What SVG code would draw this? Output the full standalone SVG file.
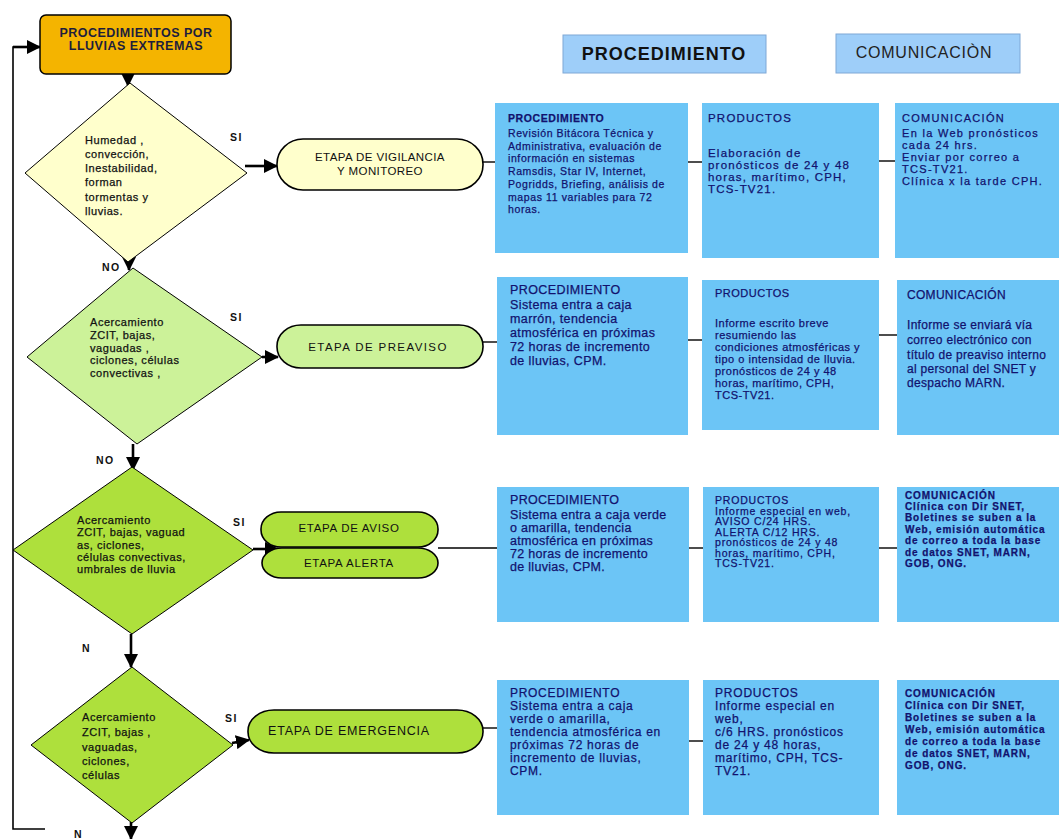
<svg xmlns="http://www.w3.org/2000/svg" width="1061" height="839" viewBox="0 0 1061 839">
  <defs>
    <marker id="arrow" markerUnits="userSpaceOnUse" markerWidth="14" markerHeight="14" viewBox="0 0 14 14" refX="13" refY="7" orient="auto">
      <path d="M0,0 L14,7 L0,14 Z" fill="#000"/>
    </marker>
    <style>
      text { font-family: "Liberation Sans", Arial, sans-serif; }
      .start { fill: #F4B400; stroke: #000; stroke-width: 1.5; }
      .dec-y { fill: #FFFFCC; stroke: #000; stroke-width: 1; }
      .dec-g { fill: #CCF299; stroke: #000; stroke-width: 1; }
      .dec-l { fill: #AEE03C; stroke: #000; stroke-width: 1; }
      .stage { stroke: #000; stroke-width: 1.6; }
      .info { fill: #6CC5F6; }
      .head { fill: #9ECEF9; stroke: #7FA8D6; stroke-width: 1; }
      .dt { font-size: 11px; fill: #111; stroke: #111; stroke-width: 0.25; letter-spacing: 0.55px; }
      .lbl { font-size: 10.5px; font-weight: bold; fill: #111; letter-spacing: 1.5px; }
      .st { font-size: 11.5px; fill: #111; text-anchor: middle; }
      .bt { fill: #12126E; stroke: #12126E; stroke-width: 0.25; }
      .arr { stroke: #000; stroke-width: 2.6; fill: none; marker-end: url(#arrow); }
      .ln { stroke: #000; stroke-width: 1.4; fill: none; }
      .loop { stroke: #000; stroke-width: 1.6; fill: none; }
    </style>
  </defs>

  <rect width="1061" height="839" fill="#FFFFFF"/>

  <!-- column headings -->
  <g id="header-procedimiento">
    <rect class="head" x="563" y="35" width="203" height="38"/>
    <text x="664" y="60" font-size="18" font-weight="bold" letter-spacing="1" text-anchor="middle" fill="#111">PROCEDIMIENTO</text>
  </g>
  <g id="header-comunicacion">
    <rect class="head" x="836" y="34" width="184" height="39"/>
    <text x="924" y="58" font-size="16" letter-spacing="0.8" text-anchor="middle" fill="#222">COMUNICACIÒN</text>
  </g>

  <!-- connectors -->
  <g id="connectors">
    <polyline class="loop" points="45,829 13,829 13,47 30,47"/>
    <line class="arr" x1="13" y1="47" x2="40" y2="47"/>
    <line class="arr" x1="128" y1="74" x2="128" y2="86"/>
    <line class="arr" x1="245" y1="166" x2="277" y2="166"/>
    <line class="arr" x1="129" y1="247" x2="129" y2="270"/>
    <line class="arr" x1="262" y1="357" x2="278" y2="357"/>
    <line class="arr" x1="133" y1="444" x2="133" y2="470"/>
    <line class="arr" x1="253" y1="549" x2="278" y2="549"/>
    <line class="arr" x1="131" y1="634" x2="131" y2="667"/>
    <line class="arr" x1="232" y1="743" x2="249" y2="740"/>
    <line class="arr" x1="131" y1="822" x2="131" y2="839"/>
    <!-- stage to detail boxes -->
    <line class="ln" x1="483" y1="162" x2="495" y2="162"/>
    <line class="ln" x1="688" y1="162" x2="702" y2="162"/>
    <line class="ln" x1="879" y1="161" x2="895" y2="161"/>
    <line class="ln" x1="483" y1="342" x2="497" y2="342"/>
    <line class="ln" x1="688" y1="340" x2="702" y2="340"/>
    <line class="ln" x1="879" y1="335" x2="897" y2="335"/>
    <line class="ln" x1="438" y1="548" x2="497" y2="548"/>
    <line class="ln" x1="689" y1="548" x2="703" y2="548"/>
    <line class="ln" x1="879" y1="548" x2="897" y2="548"/>
    <line class="ln" x1="483" y1="728" x2="497" y2="728"/>
    <line class="ln" x1="689" y1="741" x2="703" y2="741"/>
  </g>

  <!-- start -->
  <g id="start">
    <rect class="start" x="40" y="15" width="191" height="59" rx="6"/>
    <text x="136" y="37" font-size="12.5" font-weight="bold" letter-spacing="0.5" text-anchor="middle" fill="#1E1E3C">PROCEDIMIENTOS POR</text>
    <text x="136" y="50" font-size="12.5" font-weight="bold" letter-spacing="0.5" text-anchor="middle" fill="#1E1E3C">LLUVIAS EXTREMAS</text>
  </g>

  <!-- decision 1 -->
  <g id="decision-1">
    <polygon class="dec-y" points="130,83 247,173 128,262 25,173"/>
    <text class="dt" x="85" y="144">Humedad ,</text>
    <text class="dt" x="85" y="158">convección,</text>
    <text class="dt" x="85" y="172">Inestabilidad,</text>
    <text class="dt" x="85" y="186">forman</text>
    <text class="dt" x="85" y="201">tormentas y</text>
    <text class="dt" x="85" y="215">lluvias.</text>
    <text class="lbl" x="230" y="141">SI</text>
    <text class="lbl" x="102" y="271">NO</text>
  </g>

  <!-- decision 2 -->
  <g id="decision-2">
    <polygon class="dec-g" points="133,268 262,357 137,444 27,357"/>
    <text class="dt" x="90" y="326">Acercamiento</text>
    <text class="dt" x="90" y="339">ZCIT, bajas,</text>
    <text class="dt" x="90" y="352">vaguadas ,</text>
    <text class="dt" x="90" y="364">ciclones, células</text>
    <text class="dt" x="90" y="377">convectivas ,</text>
    <text class="lbl" x="230" y="321">SI</text>
    <text class="lbl" x="96" y="464">NO</text>
  </g>

  <!-- decision 3 -->
  <g id="decision-3">
    <polygon class="dec-l" points="132,467 253,550 132,634 13,550"/>
    <text class="dt" x="77" y="524" font-size="10">Acercamiento</text>
    <text class="dt" x="77" y="536" font-size="10">ZCIT, bajas, vaguad</text>
    <text class="dt" x="77" y="549" font-size="10">as, ciclones,</text>
    <text class="dt" x="77" y="561" font-size="10">células convectivas,</text>
    <text class="dt" x="77" y="573" font-size="10">umbrales de lluvia</text>
    <text class="lbl" x="233" y="526">SI</text>
    <text class="lbl" x="82" y="652">N</text>
  </g>

  <!-- decision 4 -->
  <g id="decision-4">
    <polygon class="dec-l" points="132,667 233,745 132,823 31,745"/>
    <text class="dt" x="82" y="721" font-size="12" letter-spacing="0.4">Acercamiento</text>
    <text class="dt" x="82" y="736" font-size="12" letter-spacing="0.4">ZCIT, bajas ,</text>
    <text class="dt" x="82" y="751" font-size="12" letter-spacing="0.4">vaguadas,</text>
    <text class="dt" x="82" y="765" font-size="12" letter-spacing="0.4">ciclones,</text>
    <text class="dt" x="82" y="779" font-size="12" letter-spacing="0.4">células</text>
    <text class="lbl" x="225" y="722">SI</text>
    <text class="lbl" x="74" y="838">N</text>
  </g>

  <!-- stages -->
  <g id="stage-vigilancia">
    <rect class="stage" x="277" y="139" width="206" height="51" rx="26" ry="25" fill="#FFFFCC"/>
    <text class="st" x="380" y="161" letter-spacing="0.4">ETAPA DE VIGILANCIA</text>
    <text class="st" x="380" y="175" letter-spacing="0.4">Y MONITOREO</text>
  </g>
  <g id="stage-preaviso">
    <rect class="stage" x="277" y="325" width="206" height="43" rx="24" ry="21" fill="#CCF299"/>
    <text class="st" x="378" y="351" font-size="12" letter-spacing="1.4">ETAPA DE PREAVISO</text>
  </g>
  <g id="stage-aviso">
    <rect class="stage" x="261" y="512" width="177" height="35" rx="20" ry="17" fill="#AEE03C"/>
    <text class="st" x="349" y="532" font-size="10.5" letter-spacing="0.7">ETAPA DE AVISO</text>
  </g>
  <g id="stage-alerta">
    <rect class="stage" x="262" y="548" width="176" height="30" rx="20" ry="15" fill="#AEE03C"/>
    <text class="st" x="349" y="567" font-size="10.5" letter-spacing="0.7">ETAPA ALERTA</text>
  </g>
  <g id="stage-emergencia">
    <rect class="stage" x="248" y="710" width="235" height="43" rx="26" ry="21" fill="#AEE03C"/>
    <text x="268" y="735" font-size="12.5" letter-spacing="0.8" fill="#111">ETAPA DE EMERGENCIA</text>
  </g>

  <!-- row 1 detail boxes -->
  <g id="proc-1">
    <rect class="info" x="495" y="103" width="193" height="150"/>
    <g class="bt" font-size="10.5" letter-spacing="0.6">
      <text x="508" y="121.5" font-weight="bold">PROCEDIMIENTO</text>
      <text x="508" y="136.5">Revisión Bitácora Técnica y</text>
      <text x="508" y="149.5">Administrativa, evaluación de</text>
      <text x="508" y="161.5">información en sistemas</text>
      <text x="508" y="174.5">Ramsdis, Star IV, Internet,</text>
      <text x="508" y="187.5">Pogridds, Briefing, análisis de</text>
      <text x="508" y="200.5">mapas  11 variables para 72</text>
      <text x="508" y="212.5">horas.</text>
    </g>
  </g>
  <g id="prod-1">
    <rect class="info" x="702" y="103" width="177" height="155"/>
    <g class="bt" font-size="11.5" letter-spacing="1.2">
      <text x="708" y="122">PRODUCTOS</text>
      <text x="708" y="157">Elaboración de</text>
      <text x="708" y="169">pronósticos de 24 y 48</text>
      <text x="708" y="181">horas, marítimo, CPH,</text>
      <text x="708" y="193">TCS-TV21.</text>
    </g>
  </g>
  <g id="com-1">
    <rect class="info" x="895" y="103" width="164" height="155"/>
    <g class="bt" font-size="11" letter-spacing="1.3">
      <text x="902" y="122">COMUNICACIÓN</text>
      <text x="902" y="137"> En la Web pronósticos</text>
      <text x="902" y="149">cada 24 hrs.</text>
      <text x="902" y="161">Enviar por correo a</text>
      <text x="902" y="173">TCS-TV21.</text>
      <text x="902" y="185">Clínica x la tarde CPH.</text>
    </g>
  </g>

  <!-- row 2 detail boxes -->
  <g id="proc-2">
    <rect class="info" x="497" y="277" width="191" height="158"/>
    <g class="bt" font-size="12.5" letter-spacing="0.4">
      <text x="510" y="294">PROCEDIMIENTO</text>
      <text x="510" y="309">Sistema entra a caja</text>
      <text x="510" y="323">marrón, tendencia</text>
      <text x="510" y="337">atmosférica en próximas</text>
      <text x="510" y="351">72 horas  de incremento</text>
      <text x="510" y="365">de  lluvias, CPM.</text>
    </g>
  </g>
  <g id="prod-2">
    <rect class="info" x="702" y="280" width="177" height="150"/>
    <g class="bt" font-size="11" letter-spacing="0.5">
      <text x="715" y="297">PRODUCTOS</text>
      <text x="715" y="327">Informe escrito breve</text>
      <text x="715" y="339">resumiendo las</text>
      <text x="715" y="351">condiciones atmosféricas y</text>
      <text x="715" y="363">tipo o intensidad de lluvia.</text>
      <text x="715" y="375">pronósticos de 24 y 48</text>
      <text x="715" y="387">horas, marítimo, CPH,</text>
      <text x="715" y="399">TCS-TV21.</text>
    </g>
  </g>
  <g id="com-2">
    <rect class="info" x="897" y="280" width="162" height="155"/>
    <g class="bt" font-size="12" letter-spacing="0.3">
      <text x="907" y="299">COMUNICACIÓN</text>
      <text x="907" y="329">Informe se enviará vía</text>
      <text x="907" y="344">correo electrónico con</text>
      <text x="907" y="359">título de preaviso interno</text>
      <text x="907" y="373">al personal del SNET y</text>
      <text x="907" y="387">despacho  MARN.</text>
    </g>
  </g>

  <!-- row 3 detail boxes -->
  <g id="proc-3">
    <rect class="info" x="497" y="487" width="192" height="135"/>
    <g class="bt" font-size="12.5" letter-spacing="0.3">
      <text x="510" y="504">PROCEDIMIENTO</text>
      <text x="510" y="519">Sistema entra a caja verde</text>
      <text x="510" y="532">o amarilla, tendencia</text>
      <text x="510" y="545">atmosférica en próximas</text>
      <text x="510" y="558">72 horas  de incremento</text>
      <text x="510" y="571">de  lluvias, CPM.</text>
    </g>
  </g>
  <g id="prod-3">
    <rect class="info" x="703" y="487" width="176" height="135"/>
    <g class="bt" font-size="10.5" letter-spacing="0.8">
      <text x="715" y="504">PRODUCTOS</text>
      <text x="715" y="514.5">Informe especial en web,</text>
      <text x="715" y="525">AVISO C/24 HRS.</text>
      <text x="715" y="535.5">ALERTA C/12 HRS.</text>
      <text x="715" y="546">pronósticos de 24 y 48</text>
      <text x="715" y="556.5">horas, marítimo, CPH,</text>
      <text x="715" y="567">TCS-TV21.</text>
    </g>
  </g>
  <g id="com-3">
    <rect class="info" x="897" y="487" width="162" height="135"/>
    <g class="bt" font-size="10" font-weight="bold" letter-spacing="0.9">
      <text x="905" y="499">COMUNICACIÓN</text>
      <text x="905" y="509.5">Clínica con Dir SNET,</text>
      <text x="905" y="521">Boletines se suben a la</text>
      <text x="905" y="532.5">Web, emisión automática</text>
      <text x="905" y="544">de correo a toda la base</text>
      <text x="905" y="555.5">de datos SNET, MARN,</text>
      <text x="905" y="567">GOB, ONG.</text>
    </g>
  </g>

  <!-- row 4 detail boxes -->
  <g id="proc-4">
    <rect class="info" x="497" y="680" width="192" height="135"/>
    <g class="bt" font-size="12" letter-spacing="0.7">
      <text x="510" y="697">PROCEDIMIENTO</text>
      <text x="510" y="710">Sistema entra a caja</text>
      <text x="510" y="723">verde o amarilla,</text>
      <text x="510" y="736">tendencia atmosférica en</text>
      <text x="510" y="749">próximas 72 horas de</text>
      <text x="510" y="762">incremento de  lluvias,</text>
      <text x="510" y="775">CPM.</text>
    </g>
  </g>
  <g id="prod-4">
    <rect class="info" x="703" y="680" width="176" height="135"/>
    <g class="bt" font-size="12" letter-spacing="0.8">
      <text x="715" y="697">PRODUCTOS</text>
      <text x="715" y="710">Informe especial en</text>
      <text x="715" y="723">web,</text>
      <text x="715" y="736">c/6 HRS.  pronósticos</text>
      <text x="715" y="749">de 24 y 48 horas,</text>
      <text x="715" y="762">marítimo, CPH, TCS-</text>
      <text x="715" y="775">TV21.</text>
    </g>
  </g>
  <g id="com-4">
    <rect class="info" x="897" y="680" width="162" height="135"/>
    <g class="bt" font-size="10" font-weight="bold" letter-spacing="0.9">
      <text x="905" y="697">COMUNICACIÓN</text>
      <text x="905" y="709">Clínica con Dir SNET,</text>
      <text x="905" y="721">Boletines se suben a la</text>
      <text x="905" y="733">Web, emisión automática</text>
      <text x="905" y="745">de correo a toda la base</text>
      <text x="905" y="757">de datos SNET, MARN,</text>
      <text x="905" y="769">GOB, ONG.</text>
    </g>
  </g>
</svg>
